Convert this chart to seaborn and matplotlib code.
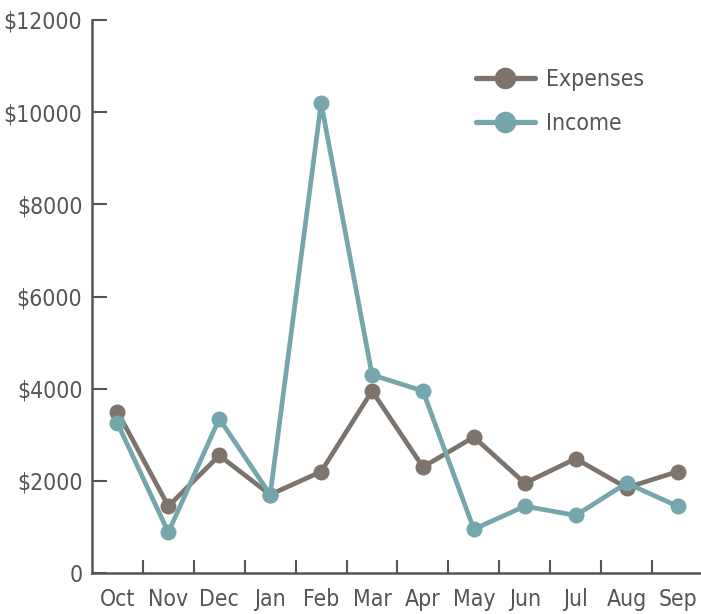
import matplotlib
matplotlib.use("Agg")
import matplotlib.pyplot as plt
import seaborn as sns
import pandas as pd
from matplotlib.ticker import FixedLocator, FuncFormatter

months = ["Oct", "Nov", "Dec", "Jan", "Feb", "Mar", "Apr", "May", "Jun", "Jul", "Aug", "Sep"]
expenses = [3500, 1450, 2550, 1700, 2200, 3950, 2300, 2950, 1950, 2480, 1850, 2200]
income = [3250, 880, 3350, 1700, 10200, 4300, 3950, 950, 1450, 1250, 1950, 1450]
series_names = ["Expenses", "Income"]
yticks = [0, 2000, 4000, 6000, 8000, 10000, 12000]

sns.set_style("white")
plt.rcParams['font.family'] = ['DejaVu Sans']
plt.rcParams['font.stretch'] = 'condensed'

df = pd.DataFrame({
    "month": months * 2,
    "value": expenses + income,
    "series": [series_names[0]] * len(months) + [series_names[1]] * len(months),
})
df["x"] = list(range(len(months))) * 2

fig = plt.figure(figsize=(7.01, 6.14), dpi=100)
ax = fig.add_axes([92 / 701, 41 / 614, 611 / 701, 553 / 614])

palette = {"Expenses": "#7d746d", "Income": "#74a6ac"}
sns.lineplot(data=df, x="x", y="value", hue="series", palette=palette, ax=ax,
             linewidth=3.4, marker="o", markersize=11.5, markeredgewidth=0, legend=True)

text_color = "#555555"
ax.set_xlim(-0.5, 11.5)
ax.set_ylim(0, 12000)
ax.set_xlabel("")
ax.set_ylabel("")
ax.set_xticks(range(len(months)))
ax.set_xticklabels(months)
ax.xaxis.set_minor_locator(FixedLocator([i + 0.5 for i in range(len(months) - 1)]))
ax.tick_params(axis="x", which="major", bottom=True, length=0, pad=11, labelsize=16.5, labelcolor=text_color)
ax.tick_params(axis="x", which="minor", bottom=True, direction="in", length=9.5, width=1.5, color="#555555")
ax.set_yticks(yticks)
ax.yaxis.set_major_formatter(FuncFormatter(lambda v, p: "0" if v == 0 else f"${int(v)}"))
ax.tick_params(axis="y", left=True, direction="in", length=11, width=1.5, color="#555555", pad=7,
               labelsize=16.5, labelcolor=text_color)
for s in ["top", "right"]:
    ax.spines[s].set_visible(False)
for s in ["left", "bottom"]:
    ax.spines[s].set_color("#555555")
    ax.spines[s].set_linewidth(1.8)

leg = ax.legend(loc="upper left", bbox_to_anchor=(455 / 701, 1 - 47 / 614),
                bbox_transform=fig.transFigure, frameon=False, fontsize=16.5,
                handlelength=2.6, handletextpad=0.45, labelspacing=0.95)
for t in leg.get_texts():
    t.set_color(text_color)
for h in leg.legend_handles:
    h.set_linewidth(3.8)
    h.set_markersize(15.5)

fig.savefig("out.png", dpi=100)
